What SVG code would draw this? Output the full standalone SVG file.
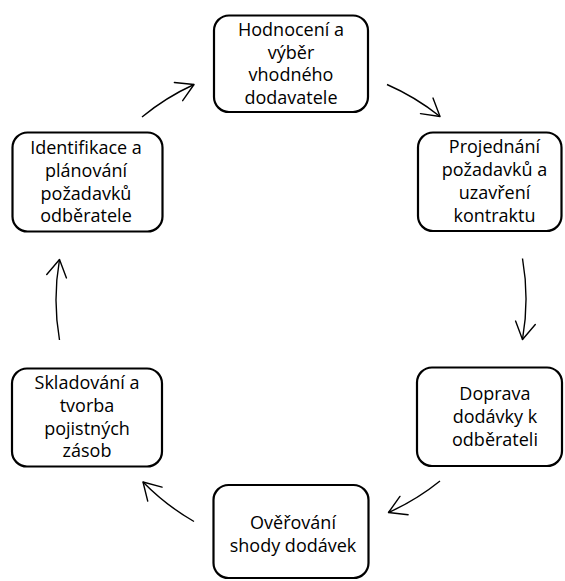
<svg xmlns="http://www.w3.org/2000/svg" width="565" height="581" viewBox="0 0 565 581">
  <style>
    .box { fill: #ffffff; stroke: #000000; stroke-width: 2.2; }
    .lbl { font-family: "Open Sans", "Liberation Sans", sans-serif; font-size: 18px; fill: #000000; text-anchor: middle; }
    .arc { fill: none; stroke: #000000; stroke-width: 1.4; }
  </style>
  <defs>
    <marker id="ah" markerUnits="userSpaceOnUse" markerWidth="40" markerHeight="40" viewBox="-20 -20 40 40" refX="0" refY="0" orient="auto" overflow="visible">
      <path d="M -17 -10 L 0 0 L -17 10" fill="none" stroke="#000000" stroke-width="1.4" stroke-linecap="round" stroke-linejoin="round"/>
    </marker>
  </defs>

  <g id="connectors">
    <path class="arc" d="M 142 117 A 235 235 0 0 1 194 84.5" marker-end="url(#ah)"/>
    <path class="arc" d="M 387 84.5 A 235 235 0 0 1 440 116.5" marker-end="url(#ah)"/>
    <path class="arc" d="M 522.5 258.5 A 235 235 0 0 1 522.5 339.5" marker-end="url(#ah)"/>
    <path class="arc" d="M 440 481 A 235 235 0 0 1 388.5 512.5" marker-end="url(#ah)"/>
    <path class="arc" d="M 194 521.5 A 235 235 0 0 1 143 482" marker-end="url(#ah)"/>
    <path class="arc" d="M 59.5 340 A 235 235 0 0 1 59.5 259.5" marker-end="url(#ah)"/>
  </g>

  <g id="node-hodnoceni">
    <rect class="box" x="214" y="15.5" width="154" height="96.5" rx="15" ry="15"/>
    <text class="lbl" x="291" y="36">Hodnocení a</text>
    <text class="lbl" x="291" y="58.5">výběr</text>
    <text class="lbl" x="291" y="81">vhodného</text>
    <text class="lbl" x="291" y="103.5">dodavatele</text>
  </g>

  <g id="node-projednani">
    <rect class="box" x="418" y="132.5" width="143.5" height="98.5" rx="15" ry="15"/>
    <text class="lbl" x="494.5" y="153">Projednání</text>
    <text class="lbl" x="494.5" y="176">požadavků a</text>
    <text class="lbl" x="494.5" y="199">uzavření</text>
    <text class="lbl" x="494.5" y="222">kontraktu</text>
  </g>

  <g id="node-doprava">
    <rect class="box" x="417" y="367.5" width="145" height="98.5" rx="15" ry="15"/>
    <text class="lbl" x="495" y="400">Doprava</text>
    <text class="lbl" x="495" y="423">dodávky k</text>
    <text class="lbl" x="495" y="445.5">odběrateli</text>
  </g>

  <g id="node-overovani">
    <rect class="box" x="213.5" y="485" width="155" height="93" rx="15" ry="15"/>
    <text class="lbl" x="293" y="528.5">Ověřování</text>
    <text class="lbl" x="293" y="551.5">shody dodávek</text>
  </g>

  <g id="node-skladovani">
    <rect class="box" x="12" y="368.5" width="150" height="98" rx="15" ry="15"/>
    <text class="lbl" x="87" y="388.5">Skladování a</text>
    <text class="lbl" x="87" y="411.5">tvorba</text>
    <text class="lbl" x="87" y="434.5">pojistných</text>
    <text class="lbl" x="87" y="457">zásob</text>
  </g>

  <g id="node-identifikace">
    <rect class="box" x="12.5" y="132.5" width="150" height="99" rx="15" ry="15"/>
    <text class="lbl" x="86" y="153.5">Identifikace a</text>
    <text class="lbl" x="86" y="176.5">plánování</text>
    <text class="lbl" x="86" y="199.5">požadavků</text>
    <text class="lbl" x="86" y="222">odběratele</text>
  </g>
</svg>
